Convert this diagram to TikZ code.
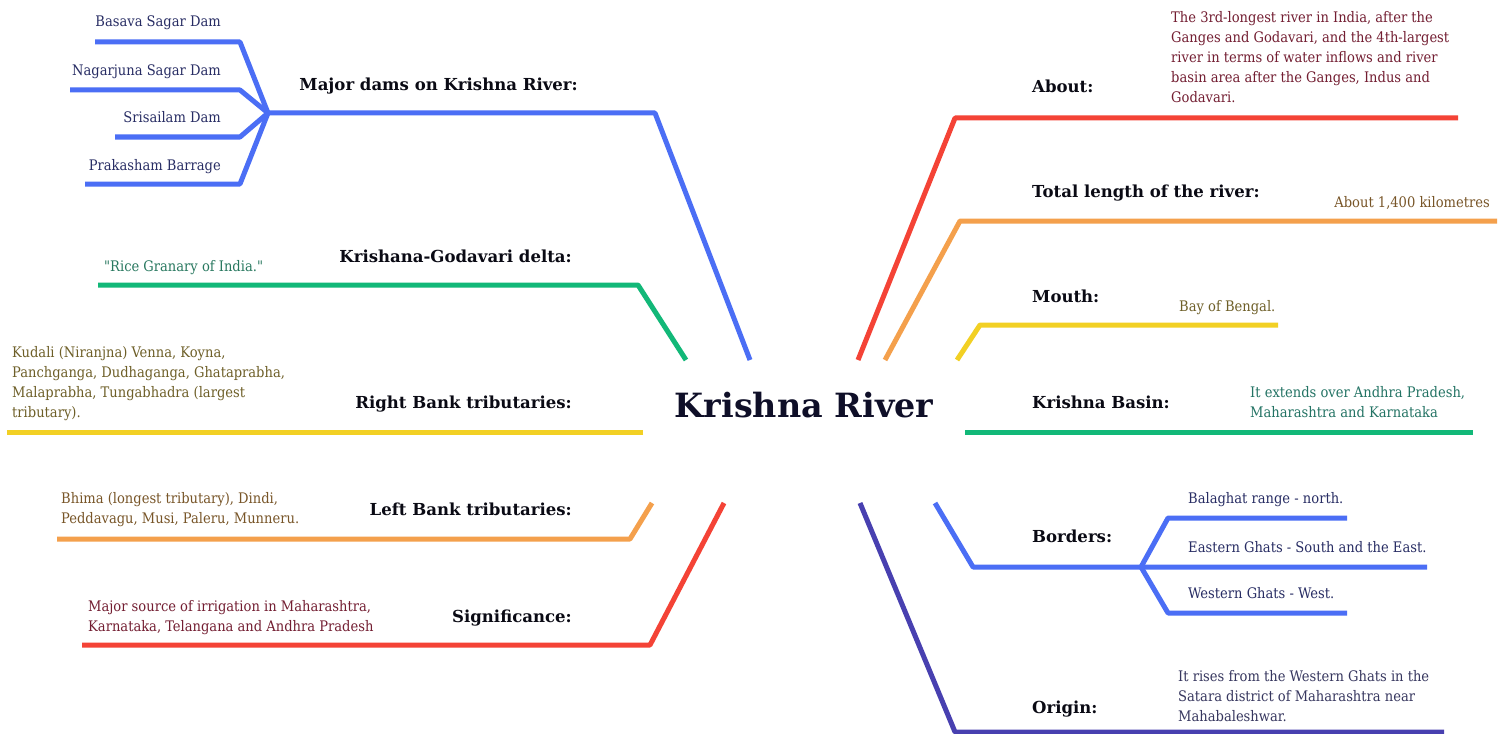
\documentclass[tikz,border=0pt]{standalone}
\usepackage{fontspec}
\setmainfont{DejaVu Serif}
\newfontfamily\bodyf{DejaVu Serif Condensed}
\newfontfamily\headf{DejaVu Serif}
\definecolor{cblue}{RGB}{75,110,245}
\definecolor{cred}{RGB}{244,67,54}
\definecolor{corange}{RGB}{244,160,76}
\definecolor{cyellow}{RGB}{242,208,36}
\definecolor{cgreen}{RGB}{18,184,120}
\definecolor{cindigo}{RGB}{72,64,176}
\definecolor{tnavy}{RGB}{40,45,100}
\definecolor{tteal}{RGB}{40,120,95}
\definecolor{tolive}{RGB}{110,95,40}
\definecolor{tbrown}{RGB}{120,85,40}
\definecolor{tmaroon}{RGB}{115,30,50}
\definecolor{tbasin}{RGB}{35,115,100}
\definecolor{tgray}{RGB}{55,55,95}
\definecolor{tlabel}{RGB}{10,10,20}
\definecolor{ttitle}{RGB}{15,15,40}
\begin{document}
\begin{tikzpicture}[x=1bp,y=-1bp,
  branch/.style={line width=5bp, line cap=butt, line join=round},
  lbl/.style={font=\headf\bfseries\fontsize{16.6}{18}\selectfont, text=tlabel, inner sep=0},
  body/.style={font=\bodyf\fontsize{14.6}{20.2}\selectfont, inner sep=0, align=left},
  titlefont/.style={font=\headf\bfseries\fontsize{33.5}{38}\selectfont, text=ttitle, inner sep=0}]
\useasboundingbox[fill=white] (0,0) rectangle (1507,734);

% central topic
\node[titlefont] (title) at (804,405) {Krishna River};

% ---- coordinates of branches
\coordinate (d0) at (750,360); \coordinate (d1) at (655,113); \coordinate (df) at (268,113);
\coordinate (d2a) at (240,42);  \coordinate (d3a) at (95,42);
\coordinate (d2b) at (240,90);  \coordinate (d3b) at (70,90);
\coordinate (d2c) at (240,137); \coordinate (d3c) at (115,137);
\coordinate (d2d) at (240,184); \coordinate (d3d) at (85,184);
\coordinate (g0) at (686,360); \coordinate (g1) at (638,285); \coordinate (g2) at (98,285);
\coordinate (rb0) at (643,432); \coordinate (rb1) at (7,432);
\coordinate (lb0) at (652,503); \coordinate (lb1) at (630,539); \coordinate (lb2) at (57,539);
\coordinate (s0) at (724,503); \coordinate (s1) at (650,645); \coordinate (s2) at (82,645);
\coordinate (a0) at (858,360); \coordinate (a1) at (955,118); \coordinate (a2) at (1458,118);
\coordinate (t0) at (885,360); \coordinate (t1) at (960,221); \coordinate (t2) at (1497,221);
\coordinate (m0) at (957,360); \coordinate (m1) at (980,325); \coordinate (m2) at (1278,325);
\coordinate (k0) at (965,432); \coordinate (k1) at (1473,432);
\coordinate (b0) at (935,503); \coordinate (b1) at (973,567); \coordinate (bf) at (1141,567);
\coordinate (b2) at (1427,567);
\coordinate (bn1) at (1168,518); \coordinate (bn2) at (1347,518);
\coordinate (bw1) at (1168,613); \coordinate (bw2) at (1347,613);
\coordinate (o0) at (860,503); \coordinate (o1) at (955,732); \coordinate (o2) at (1444,732);

% ---- branches
\draw[branch, cblue] (d0) -- (d1) -- (df);
\draw[branch, cblue] (df) -- (d2a) -- (d3a);
\draw[branch, cblue] (df) -- (d2b) -- (d3b);
\draw[branch, cblue] (df) -- (d2c) -- (d3c);
\draw[branch, cblue] (df) -- (d2d) -- (d3d);
\draw[branch, cgreen] (g0) -- (g1) -- (g2);
\draw[branch, cyellow] (rb0) -- (rb1);
\draw[branch, corange] (lb0) -- (lb1) -- (lb2);
\draw[branch, cred] (s0) -- (s1) -- (s2);
\draw[branch, cred] (a0) -- (a1) -- (a2);
\draw[branch, corange] (t0) -- (t1) -- (t2);
\draw[branch, cyellow] (m0) -- (m1) -- (m2);
\draw[branch, cgreen] (k0) -- (k1);
\draw[branch, cblue] (b0) -- (b1) -- (b2);
\draw[branch, cblue] (bf) -- (bn1) -- (bn2);
\draw[branch, cblue] (bf) -- (bw1) -- (bw2);
\draw[branch, cindigo] (o0) -- (o1) -- (o2);

% ---- left labels
\node[lbl, anchor=base east] (ldams) at (578,91) {Major dams on Krishna River:};
\node[lbl, anchor=base east] (ldelta) at (572,262) {Krishana-Godavari delta:};
\node[lbl, anchor=base east] (lright) at (572,408) {Right Bank tributaries:};
\node[lbl, anchor=base east] (lleft) at (572,515) {Left Bank tributaries:};
\node[lbl, anchor=base east] (lsig) at (572,622) {Significance:};
% ---- right labels
\node[lbl, anchor=base west] (labout) at (1032,93) {About:};
\node[lbl, anchor=base west] (llength) at (1032,197) {Total length of the river:};
\node[lbl, anchor=base west] (lmouth) at (1032,302) {Mouth:};
\node[lbl, anchor=base west] (lbasin) at (1032,408) {Krishna Basin:};
\node[lbl, anchor=base west] (lborders) at (1032,542) {Borders:};
\node[lbl, anchor=base west] (lorigin) at (1032,713) {Origin:};

% ---- body texts
\node[body, text=tnavy, anchor=base east] (dam1) at (221,27) {Basava Sagar Dam};
\node[body, text=tnavy, anchor=base east] (dam2) at (221,76) {Nagarjuna Sagar Dam};
\node[body, text=tnavy, anchor=base east] (dam3) at (221,123) {Srisailam Dam};
\node[body, text=tnavy, anchor=base east] (dam4) at (221,170) {Prakasham Barrage};
\node[body, text=tteal, anchor=base west] (rice) at (104,271) {"Rice Granary of India."};
\node[body, text=tolive, anchor=north west] (rtrib) at (12,346) {Kudali (Niranjna) Venna, Koyna,\\Panchganga, Dudhaganga, Ghataprabha,\\Malaprabha, Tungabhadra (largest\\tributary).};
\node[body, text=tbrown, anchor=north west] (ltrib) at (61,492) {Bhima (longest tributary), Dindi,\\Peddavagu, Musi, Paleru, Munneru.};
\node[body, text=tmaroon, anchor=north west] (sig) at (88,600) {Major source of irrigation in Maharashtra,\\Karnataka, Telangana and Andhra Pradesh};
\node[body, text=tmaroon, anchor=north west] (about) at (1171,11) {The 3rd-longest river in India, after the\\Ganges and Godavari, and the 4th-largest\\river in terms of water inflows and river\\basin area after the Ganges, Indus and\\Godavari.};
\node[body, text=tbrown, anchor=base east] (length) at (1490,207) {About 1,400 kilometres};
\node[body, text=tolive, anchor=base west] (bay) at (1179,311) {Bay of Bengal.};
\node[body, text=tbasin, anchor=north west] (basin) at (1250,386) {It extends over Andhra Pradesh,\\Maharashtra and Karnataka};
\node[body, text=tnavy, anchor=base west] (bor1) at (1188,503) {Balaghat range - north.};
\node[body, text=tnavy, anchor=base west] (bor2) at (1188,552) {Eastern Ghats - South and the East.};
\node[body, text=tnavy, anchor=base west] (bor3) at (1188,598) {Western Ghats - West.};
\node[body, text=tgray, anchor=north west] (origin) at (1178,670) {It rises from the Western Ghats in the\\Satara district of Maharashtra near\\Mahabaleshwar.};
\end{tikzpicture}
\end{document}
